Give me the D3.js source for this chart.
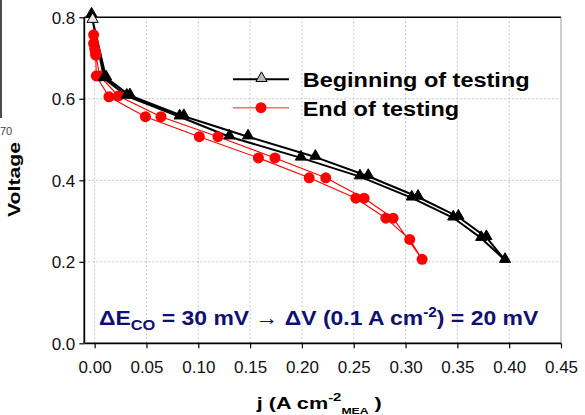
<!DOCTYPE html>
<html>
<head>
<meta charset="utf-8">
<script src="https://cdn.jsdelivr.net/npm/d3@7"></script>
<style>
  html, body { margin: 0; padding: 0; background: #fff; }
  svg { display: block; font-family: "Liberation Sans", Arial, sans-serif; }
</style>
</head>
<body>
<svg id="chart" width="585" height="415"></svg>
<script>
// Polarization sweep at start of testing (down in voltage, then back up)
const jBegin = [-0.003, 0.009, 0.031, 0.082, 0.130, 0.199, 0.256, 0.306, 0.346, 0.373, 0.396,
                0.378, 0.351, 0.312, 0.264, 0.213, 0.148, 0.086, 0.034, 0.011, -0.002];
const vBegin = [0.806, 0.650, 0.607, 0.556, 0.507, 0.455, 0.409, 0.357, 0.308, 0.258, 0.204,
                0.260, 0.310, 0.359, 0.410, 0.457, 0.507, 0.557, 0.608, 0.652, 0.793];

// Polarization sweep at end of testing
const jEnd = [-0.001, -0.001, 0.000, 0.001, 0.0016, 0.0138, 0.049, 0.101, 0.158, 0.207, 0.252, 0.281, 0.304, 0.316,
              0.288, 0.260, 0.223, 0.174, 0.119, 0.064, 0.023, 0.0048, 0.001];
const vEnd = [0.757, 0.736, 0.722, 0.707, 0.656, 0.605, 0.556, 0.507, 0.455, 0.406, 0.356, 0.307, 0.255, 0.206,
              0.307, 0.356, 0.406, 0.455, 0.507, 0.556, 0.607, 0.656, 0.712];

const xTicks = [0.00, 0.05, 0.10, 0.15, 0.20, 0.25, 0.30, 0.35, 0.40, 0.45];
const yTicks = [0.0, 0.2, 0.4, 0.6, 0.8];
const seriesNames = ["Beginning of testing", "End of testing"];

const svg = d3.select("#chart");
const pL = 84.3, pR = 561, pT = 17.3, pB = 343.3;

const x = d3.scaleLinear().domain([-0.01, 0.45]).range([pL, pR]);
const y = d3.scaleLinear().domain([0, 0.8]).range([pB, pT]);

// dotted grid
const grid = svg.append("g");
grid.selectAll("line.gx").data(xTicks.filter(t => t < 0.45)).join("line")
  .attr("x1", d => x(d)).attr("x2", d => x(d)).attr("y1", pT).attr("y2", pB)
  .attr("stroke", "#c4c4c4").attr("stroke-width", 1).attr("stroke-dasharray", "2,2");
grid.selectAll("line.gy").data(yTicks.filter(t => t > 0 && t < 0.8)).join("line")
  .attr("x1", pL).attr("x2", pR).attr("y1", d => y(d)).attr("y2", d => y(d))
  .attr("stroke", "#c4c4c4").attr("stroke-width", 1).attr("stroke-dasharray", "2,2");

// frame: top and right
svg.append("line").attr("x1", pL).attr("x2", pR).attr("y1", pT).attr("y2", pT)
  .attr("stroke", "#000").attr("stroke-width", 1.6);
svg.append("line").attr("x1", pR).attr("x2", pR).attr("y1", pT).attr("y2", pB)
  .attr("stroke", "#999").attr("stroke-width", 1);

// axes
const xAxis = svg.append("g").attr("transform", `translate(0,${pB})`)
  .call(d3.axisBottom(x).tickValues(xTicks).tickFormat(d3.format(".2f")).tickSize(5).tickPadding(10));
const yAxis = svg.append("g").attr("transform", `translate(${pL},0)`)
  .call(d3.axisLeft(y).tickValues(yTicks).tickFormat(d3.format(".1f")).tickSize(5).tickPadding(4));
[xAxis, yAxis].forEach(a => {
  a.select(".domain").attr("stroke", "#000").attr("stroke-width", 1.8);
  a.selectAll(".tick line").attr("stroke", "#000").attr("stroke-width", 1.2);
  a.selectAll(".tick text").attr("fill", "#111").attr("font-size", 17)
    .attr("font-family", "'Liberation Sans', Arial, sans-serif");
});
xAxis.select(".domain").attr("d", `M${pL},0H${pR}`);
yAxis.select(".domain").attr("d", `M0,${pT}V${pB}`);
xAxis.selectAll(".tick text").attr("dy", null).attr("y", 30);
yAxis.selectAll(".tick text").attr("dy", "0.36em");

const line = d3.line().x(d => x(d[0])).y(d => y(d[1]));
const beginPts = jBegin.map((j, i) => [j, vBegin[i]]);
const endPts = jEnd.map((j, i) => [j, vEnd[i]]);

const tri = d3.symbol().type(d3.symbolTriangle).size(54);

// lines
svg.append("path").datum(beginPts).attr("d", line)
  .attr("fill", "none").attr("stroke", "#000").attr("stroke-width", 2).attr("stroke-linejoin", "round");
svg.append("path").datum(endPts).attr("d", line)
  .attr("fill", "none").attr("stroke", "#ff0000").attr("stroke-width", 1.1);

// markers
svg.append("g").selectAll("circle").data(endPts).join("circle")
  .attr("cx", d => x(d[0])).attr("cy", d => y(d[1])).attr("r", 5.5).attr("fill", "#ff0000");
svg.append("g").selectAll("path").data(beginPts).join("path")
  .attr("d", tri)
  .attr("transform", d => `translate(${x(d[0])},${y(d[1]) - 1})`)
  .attr("fill", (d, i) => i === beginPts.length - 1 ? "#e8e8e8" : "#000")
  .attr("stroke", "#000").attr("stroke-width", 1);

// legend
const lg = svg.append("g");
const legendRows = [
  { name: seriesNames[0], ly: 79.3, base: 86.7 },
  { name: seriesNames[1], ly: 107.7, base: 115.7 }
];
lg.append("line").attr("x1", 233).attr("x2", 289).attr("y1", legendRows[0].ly).attr("y2", legendRows[0].ly)
  .attr("stroke", "#000").attr("stroke-width", 2);
lg.append("path").attr("d", tri).attr("transform", `translate(261.5,${legendRows[0].ly - 1})`)
  .attr("fill", "#b8b8b8").attr("stroke", "#000").attr("stroke-width", 1);
lg.append("line").attr("x1", 233).attr("x2", 289).attr("y1", legendRows[1].ly).attr("y2", legendRows[1].ly)
  .attr("stroke", "#ff6a6a").attr("stroke-width", 1.6);
lg.append("circle").attr("cx", 261).attr("cy", legendRows[1].ly).attr("r", 5.5).attr("fill", "#ff0000");

// stretch a text horizontally so it spans the given width from its start
function fitWidth(sel, width, x0) {
  const w = sel.node().getBBox().width;
  sel.attr("transform", `translate(${x0},0) scale(${width / w},1) translate(${-x0},0)`);
}

legendRows.forEach((r, i) => {
  const t = lg.append("text").attr("x", 302.7).attr("y", r.base)
    .attr("font-size", 21).attr("font-weight", "bold").attr("fill", "#000").text(r.name);
  if (i === 0) fitWidth(t, 227, 302.7);
  else t.attr("transform", lg.select("text").attr("transform"));
});

// y title
svg.append("text")
  .attr("transform", "translate(20,179.5) rotate(-90)")
  .attr("text-anchor", "middle").attr("font-size", 17).attr("font-weight", "bold")
  .attr("textLength", 75).attr("lengthAdjust", "spacingAndGlyphs")
  .text("Voltage");

// x title with super/subscript
const xt = svg.append("text").attr("x", 256.7).attr("y", 409)
  .attr("font-size", 16).attr("font-weight", "bold").attr("fill", "#000");
xt.append("tspan").text("j (A cm");
xt.append("tspan").attr("font-size", 11).attr("dy", -8).text("-2");
xt.append("tspan").attr("font-size", 9).attr("dy", 13).text("MEA");
xt.append("tspan").attr("dy", -5).text(" )");
fitWidth(xt, 126.5, 256.7);

// annotation
const navy = "#101070";
const an = svg.append("text").attr("x", 99).attr("y", 325)
  .attr("font-size", 21).attr("font-weight", "bold").attr("fill", navy);
an.append("tspan").text("\u0394E");
an.append("tspan").attr("font-size", 15).attr("dy", 5).text("CO");
an.append("tspan").attr("dy", -5).text(" = 30 mV \u2192 \u0394V (0.1 A cm");
an.append("tspan").attr("font-size", 14).attr("dy", -8).text("-2");
an.append("tspan").attr("dy", 8).text(") = 20 mV");
fitWidth(an, 439.5, 99);

// edge of neighbouring panel
svg.append("line").attr("x1", 1).attr("x2", 1).attr("y1", 0).attr("y2", 118)
  .attr("stroke", "#111").attr("stroke-width", 1.5);
svg.append("text").attr("x", 0).attr("y", 135).attr("font-size", 11).attr("fill", "#444").text("70");
</script>
</body>
</html>
